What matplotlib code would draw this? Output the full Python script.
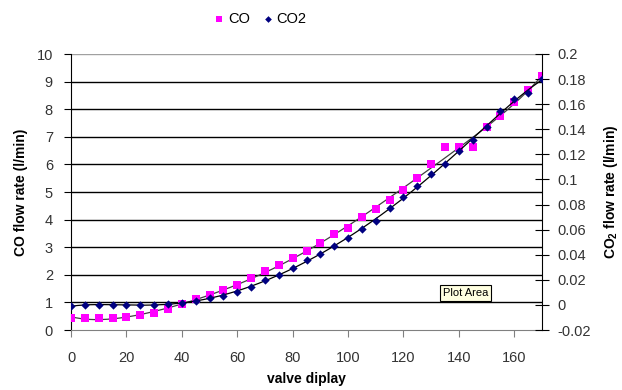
import numpy as np
import matplotlib.pyplot as plt

plt.rcParams['font.family'] = ['Liberation Sans', 'DejaVu Sans']

# valve display positions (shared by both series)
valve = list(range(0, 175, 5))

co_flow = [0.43, 0.43, 0.43, 0.43, 0.47, 0.53, 0.63, 0.77, 0.93, 1.11,
           1.27, 1.45, 1.63, 1.87, 2.15, 2.34, 2.62, 2.87, 3.14, 3.48,
           3.68, 4.11, 4.40, 4.71, 5.07, 5.51, 6.00, 6.62, 6.62, 6.62,
           7.34, 7.75, 8.27, 8.70, 9.20]

co2_flow = [-0.001, 0.0, 0.0, 0.0, 0.0, 0.0, 0.0, 0.0007, 0.0018, 0.0031,
            0.0053, 0.0073, 0.0105, 0.0145, 0.0199, 0.0236, 0.0297, 0.0358,
            0.0408, 0.047, 0.0534, 0.0605, 0.0667, 0.077, 0.0858, 0.0948,
            0.1041, 0.1126, 0.1229, 0.1315, 0.1416, 0.1543, 0.1639, 0.1692,
            0.1801]

x_ticks = [0, 20, 40, 60, 80, 100, 120, 140, 160]
left_ticks = list(range(0, 11))
right_ticks = [-0.02, 0, 0.02, 0.04, 0.06, 0.08, 0.1, 0.12, 0.14, 0.16, 0.18, 0.2]
right_labels = ['-0.02', '0', '0.02', '0.04', '0.06', '0.08', '0.1',
                '0.12', '0.14', '0.16', '0.18', '0.2']


def trend(x, y, deg=6):
    # polynomial trendline, like the Excel one
    x = np.asarray(x, float)
    c = np.polyfit(x / 170.0, y, deg)
    xs = np.linspace(x.min(), x.max(), 300)
    return xs, np.polyval(c, xs / 170.0)


fig = plt.figure(figsize=(6.22, 3.9), dpi=100)
ax = fig.add_axes([71 / 622, 1 - 330 / 390, 471 / 622, 276 / 390])
ax2 = ax.twinx()

# gridlines on the left axis
for v in left_ticks[1:]:
    ax.axhline(v, color='black' if v < 10 else '#a0a0a0', lw=1.0, zorder=1)

xs, ys = trend(valve, co_flow)
ax.plot(xs, ys, color='#404040', lw=0.9, zorder=2)
ax.scatter(valve, co_flow, marker='s', s=28, color='#ff00ff', zorder=3,
           linewidths=0, label='CO')

xs2, ys2 = trend(valve, co2_flow)
ax2.plot(xs2, ys2, color='black', lw=0.9, zorder=2)
ax2.scatter(valve, co2_flow, marker='D', s=18, color='#000080', zorder=4,
            linewidths=0, label='CO2')

ax.set_xlim(0, 170)
ax.set_ylim(0, 10)
ax2.set_ylim(-0.02, 0.2)

ax.set_xticks(x_ticks)
ax.set_yticks(left_ticks)
ax2.set_yticks(right_ticks)
ax2.set_yticklabels(right_labels)

ax.spines['top'].set_visible(False)
ax2.spines['top'].set_visible(False)
ax.spines['bottom'].set_color('#808080')
ax2.spines['bottom'].set_visible(False)
ax2.spines['left'].set_visible(False)
ax.spines['right'].set_visible(False)
ax.spines['left'].set_color('black')
ax2.spines['right'].set_color('black')

ax.tick_params(axis='x', direction='out', length=5, color='#808080',
               labelsize=10.5, labelcolor='#333333', pad=10)
ax.tick_params(axis='y', direction='out', length=5, labelsize=10.5,
               labelcolor='#333333', pad=8)
ax2.tick_params(axis='y', direction='inout', length=10, labelsize=10.5,
                labelcolor='#333333', pad=6)

ax.set_xlabel('valve diplay', fontsize=10, fontweight='bold', labelpad=5)
ax.set_ylabel('CO flow rate (l/min)', fontsize=10, fontweight='bold', labelpad=6)
ax2.set_ylabel('CO$_\\mathregular{2}$ flow rate (l/min)', fontsize=10,
               fontweight='bold', labelpad=8)

fig.legend(handles=[ax.collections[0], ax2.collections[0]], labels=['CO', 'CO2'],
           loc='center', bbox_to_anchor=(260 / 622, 1 - 19 / 390), ncol=2,
           frameon=False, fontsize=10.5, handletextpad=0.2, columnspacing=0.8,
           markerscale=0.8, handlelength=0.8)

fig.text(443 / 622, 1 - 293 / 390, 'Plot Area', fontsize=8, va='center', ha='left',
         bbox=dict(boxstyle='square,pad=0.25', fc='#ffffe1', ec='black', lw=0.8))

fig.savefig('out.png', dpi=100)
